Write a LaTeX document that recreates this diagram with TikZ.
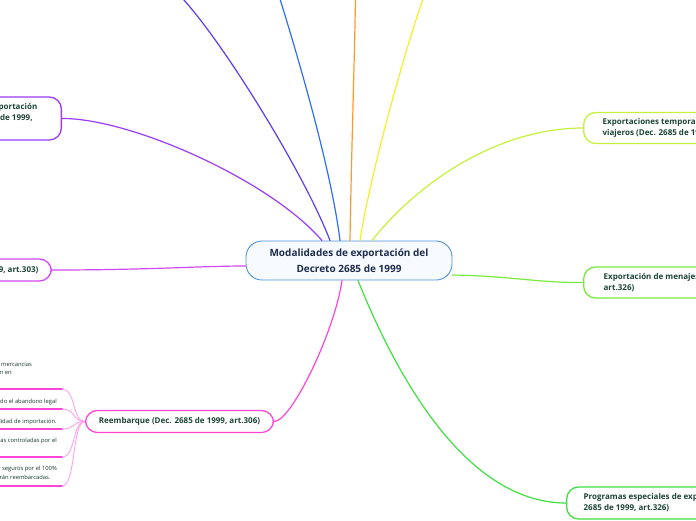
\documentclass[tikz,border=0pt]{standalone}
\usepackage{fontspec}
\setmainfont{Open Sans}
\usepackage{xcolor}
\usetikzlibrary{calc}
\definecolor{ink}{HTML}{1C4436}
\definecolor{rootink}{HTML}{1E2C4F}
\definecolor{rootedge}{HTML}{4F93DB}
\definecolor{rootfill}{HTML}{F7FAFE}
\definecolor{violetcol}{HTML}{5B3DF2}
\definecolor{bluecol}{HTML}{2F6DFB}
\definecolor{orangecol}{HTML}{FF9A2A}
\definecolor{yellowcol}{HTML}{F7EE2A}
\definecolor{limecol}{HTML}{C6F03A}
\definecolor{menajecol}{HTML}{77EA3C}
\definecolor{progcol}{HTML}{3FE03F}
\definecolor{pinkcol}{HTML}{FF45D6}
\definecolor{reexpcol}{HTML}{D247F5}
\definecolor{purplecol}{HTML}{9B3BFA}
\tikzset{
  root/.style={rounded corners=16pt, draw=rootedge, fill=rootfill, line width=0.9pt,
               minimum width=206pt, minimum height=39pt, align=center,
               font=\bfseries\fontsize{10}{15.5}\selectfont, text=rootink},
  topic/.style={rounded corners=12pt, fill=white, line width=1.3pt, align=left,
                font=\bfseries\fontsize{8}{11}\selectfont, text=ink, inner ysep=0pt},
  branch/.style={line width=1.2pt},
  leaf/.style={font=\fontsize{5.8}{8.5}\selectfont, text=ink!80!black, align=left, inner sep=0pt},
  leafline/.style={pinkcol, line width=2pt},
  twig/.style={pinkcol!55, line width=0.8pt},
}

\begin{document}
\begin{tikzpicture}[x=1pt, y=-1pt, line cap=round, line join=round]
\useasboundingbox (0,0) rectangle (696,520);
\clip (0,0) rectangle (696,520);

% ===================== CENTRE =====================
\node[root] (root) at (349,260.5) {Modalidades de exportación del\\Decreto 2685 de 1999};

% ---- branches leaving the top edge of the page ----
\coordinate (vtop) at (183,-1);
\coordinate (btop) at (280,-1);
\coordinate (otop) at (355.5,-1);
\coordinate (ytop) at (423,-1);
\draw[branch, violetcol] (vtop) .. controls (225,45) and (305,175) .. ($(root.north)+(-19,0)$);
\draw[branch, bluecol]   (btop) .. controls (302,70) and (332,175) .. ($(root.north)+(-9,0)$);
\draw[branch, orangecol] (otop) .. controls (354,80) and (351,170) .. ($(root.north)+(1,0)$);
\draw[branch, yellowcol] (ytop) .. controls (405,50) and (370,175) .. ($(root.north)+(11,0)$);

% ===================== LEFT =====================
\node[topic, draw=purplecol, anchor=east, minimum height=43pt, inner xsep=24pt] (temp) at (62,118.5)
  {Exportación temporal para reimportación\\y en el mismo estado (Dec. 2685 de 1999,\\art.301)};
\draw[branch, purplecol] (temp.east) .. controls (130,118) and (270,180) .. ($(root.north)+(-27,0)$);

\node[topic, draw=reexpcol, anchor=east, minimum height=22pt, inner xsep=13pt] (rexp) at (52,270)
  {Reexportación (Dec. 2685 de 1999, art.303)};
\draw[branch, reexpcol] (rexp.east) .. controls (150,270) and (200,266) .. ($(root.west)+(0,5.5)$);

% ---- reembarque and its leaves ----
\node[topic, draw=pinkcol, minimum height=22pt, inner xsep=13.5pt] (reemb) at (179.5,421.5)
  {Reembarque (Dec. 2685 de 1999, art.306)};
\draw[branch, pinkcol] (reemb.east) .. controls (292,421) and (335,330) .. ($(root.south)+(-7,0)$);

\coordinate (u1) at (62,389);
\coordinate (u2) at (62,409);
\coordinate (u3) at (62,429);
\coordinate (u4) at (62,457);
\coordinate (u5) at (62,486);
\node[leaf, anchor=south east] (s1) at (32,385)
  {Modalidad aplicable a la salida de mercancías\\procedentes del exterior que estén en\\depósito.};
\node[leaf, anchor=south east] (s2) at (57,405)
  {Mercancías sobre las cuales haya operado el abandono legal};
\node[leaf, anchor=south east] (s3) at (57,425)
  {Mercancías sometidas a otra modalidad de importación.};
\node[leaf, anchor=south east] (s4) at (57,451)
  {Mercancías restringidas controladas por el\\Ministerio de Cultura.};
\node[leaf, anchor=south east] (s5) at (57,481)
  {Deben estar cubiertas por seguros por el 100\%\\del valor, mientras que serán reembarcadas.};
\foreach \u in {u1,u2,u3,u4,u5}{
  \draw[leafline] (\u) -- ++(-90,0);
  \draw[twig] (\u) .. controls ($(\u)+(14,0)$) and (72,421.5) .. (reemb.west);
}

% ===================== RIGHT =====================
\node[topic, draw=limecol, anchor=west, minimum height=31pt, inner xsep=19pt] (viaj) at (583,128)
  {Exportaciones temporales realizadas por\\viajeros (Dec. 2685 de 1999, art.316)};
\draw[branch, limecol] ($(root.north)+(23,0)$) .. controls (420,180) and (500,128) .. (viaj.west);

\node[topic, draw=menajecol, anchor=west, minimum height=31pt, inner xsep=20pt] (menaj) at (583,282.5)
  {Exportación de menajes (Dec. 2685 de 1999,\\art.326)};
\draw[branch, menajecol] ($(root.east)+(0,14.5)$) .. controls (510,276) and (540,283) .. (menaj.west);

\node[topic, draw=progcol, anchor=west, minimum height=32pt, inner xsep=17pt] (prog) at (566,503)
  {Programas especiales de exportación (Dec.\\2685 de 1999, art.326)};
\draw[branch, progcol] ($(root.south)+(9,0)$) .. controls (390,360) and (460,503) .. (prog.west);

\end{tikzpicture}
\end{document}
